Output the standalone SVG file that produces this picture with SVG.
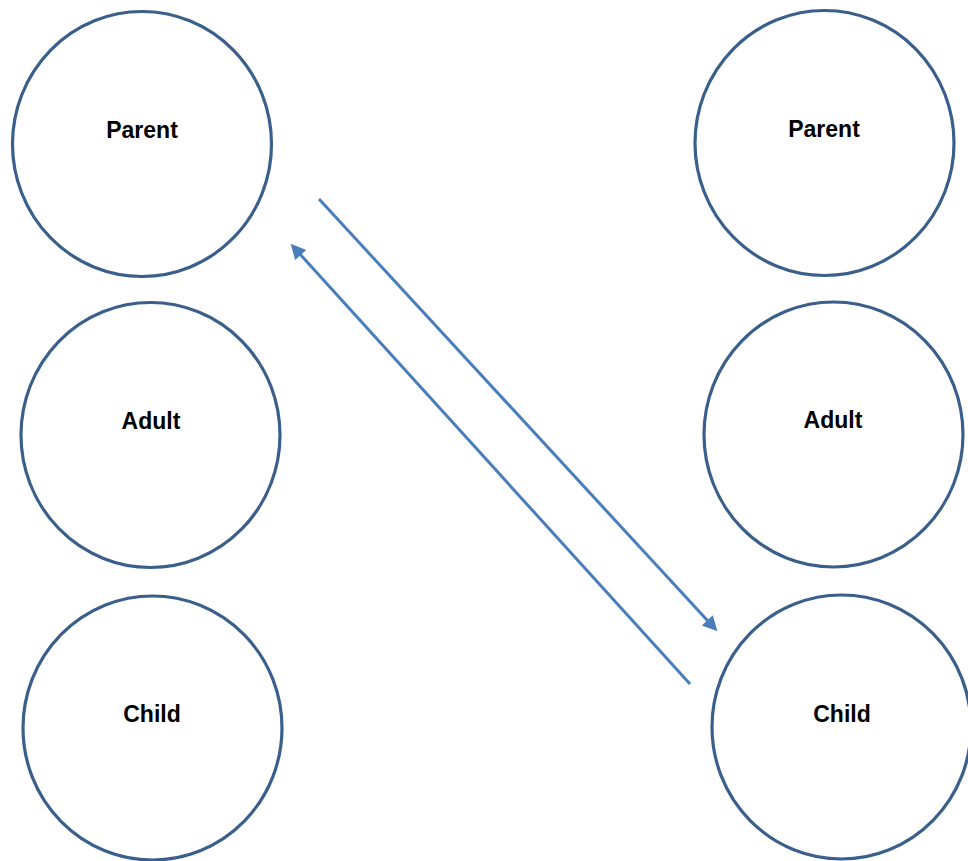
<svg xmlns="http://www.w3.org/2000/svg" width="968" height="861" viewBox="0 0 968 861">
<style>
.node{fill:#FFFFFF;stroke:#3A5F8B;stroke-width:3.2}
.lbl{font-family:"Liberation Sans",Arial,sans-serif;font-weight:bold;font-size:23px;fill:#000000;text-anchor:middle}
.conn{stroke:#4A7EBB;stroke-width:3;fill:none;marker-end:url(#arr)}
</style>
<defs>
<marker id="arr" viewBox="0 0 10 10" refX="2" refY="5" markerWidth="6" markerHeight="5" markerUnits="strokeWidth" orient="auto">
<path d="M0,0 L10,5 L0,10 z" fill="#4A7EBB"/>
</marker>
</defs>
<rect width="968" height="861" fill="#FFFFFF"/>
<g id="left-parent"><ellipse class="node" cx="142" cy="144" rx="129.5" ry="132.5"/><text class="lbl" x="142" y="138">Parent</text></g>
<g id="left-adult"><ellipse class="node" cx="150.5" cy="435" rx="129.5" ry="132.5"/><text class="lbl" x="151" y="429">Adult</text></g>
<g id="left-child"><ellipse class="node" cx="152.5" cy="728" rx="129.5" ry="132"/><text class="lbl" x="152" y="722">Child</text></g>
<g id="right-parent"><ellipse class="node" cx="824.5" cy="143" rx="129.5" ry="132.5"/><text class="lbl" x="824" y="137">Parent</text></g>
<g id="right-adult"><ellipse class="node" cx="833.5" cy="434.5" rx="129.5" ry="132.5"/><text class="lbl" x="833" y="428">Adult</text></g>
<g id="right-child"><ellipse class="node" cx="841.5" cy="727" rx="129.5" ry="132"/><text class="lbl" x="842" y="722">Child</text></g>
<g id="connectors">
<line class="conn" x1="319" y1="199" x2="709.3" y2="622.5"/>
<line class="conn" x1="690" y1="684" x2="298.7" y2="252.7"/>
</g>
</svg>
